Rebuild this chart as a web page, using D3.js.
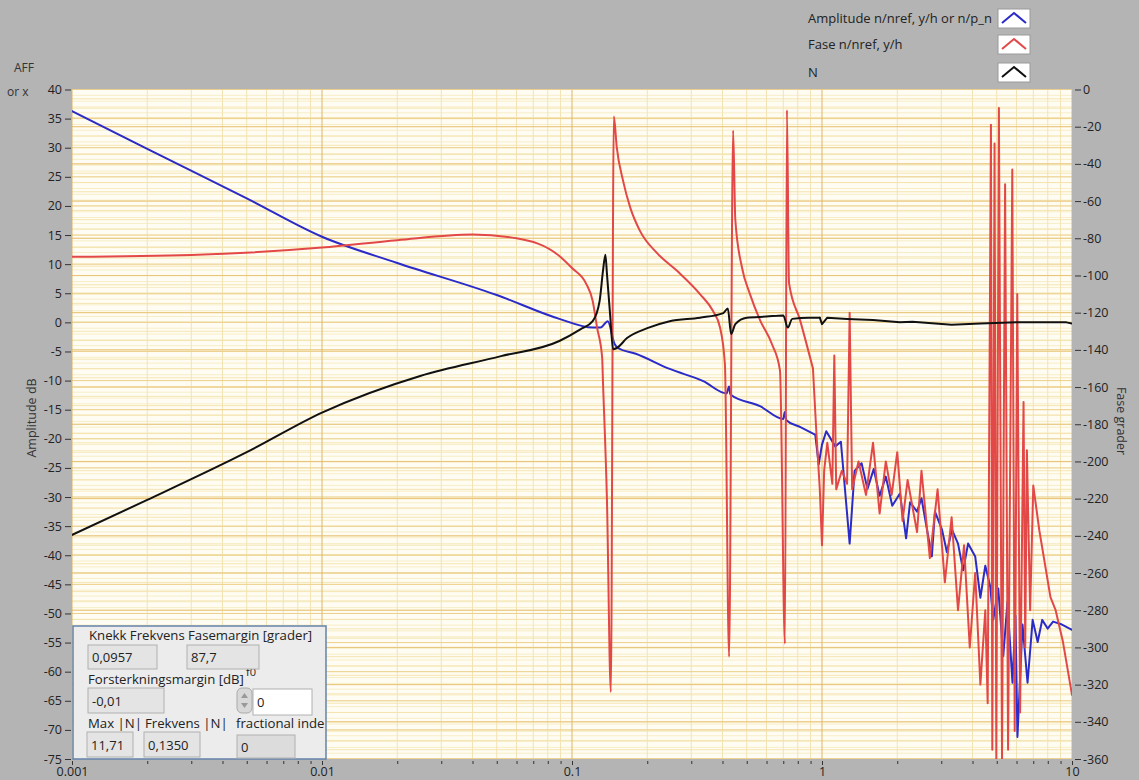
<!DOCTYPE html>
<html>
<head>
<meta charset="utf-8">
<script src="https://cdn.jsdelivr.net/npm/d3@7"></script>
<style>
  body { margin: 0; background: #b4b4b4; }
  svg { display: block; font-family: "Open Sans", "Noto Sans", sans-serif; }
</style>
</head>
<body>
<div id="chart"></div>
<script>
// frequency axis decades
const decades = [0.001, 0.01, 0.1, 1, 10];
const decadeLabels = ["0.001", "0.01", "0.1", "1", "10"];

// Amplitude n/nref [frequency, dB]
const amplitude = [
  [0.001, 36.3], [0.002, 29.8], [0.005, 21.3], [0.01, 14.7],
  [0.02, 10.2], [0.05, 4.7], [0.089, 0.6], [0.121, -0.9], [0.13, -0.9],
  [0.139, 0.2], [0.148, -3.7], [0.153, -4.4], [0.18, -5.4], [0.246, -8.0],
  [0.335, -10.1], [0.415, -12.2], [0.425, -11.0], [0.43, -12.4], [0.565, -14.4],
  [0.70, -16.6], [0.71, -15.4], [0.72, -16.8], [0.82, -18.0], [0.94, -19.3],
  [0.97, -24.4], [1.0, -21.0], [1.04, -18.7], [1.13, -21.3], [1.19, -20.5],
  [1.29, -38.0], [1.35, -25.5], [1.44, -24.2], [1.52, -28.6], [1.61, -25.2],
  [1.7, -29.8], [1.8, -26.5], [1.91, -31.5], [2.05, -29.4], [2.17, -37.1],
  [2.25, -30.9], [2.4, -32.5], [2.5, -30.2], [2.63, -35.6], [2.75, -40.2],
  [2.83, -32.5], [3.02, -35.6], [3.16, -39.5], [3.31, -35.6], [3.5, -38.0],
  [3.67, -42.6], [3.84, -38.0], [4.1, -40.2], [4.3, -47.3], [4.5, -41.8],
  [4.71, -45.4], [4.84, -51.1], [5.07, -45.7], [5.31, -57.3], [5.52, -48.0],
  [5.78, -61.9], [5.94, -50.4], [6.05, -71.2], [6.34, -51.9], [6.64, -61.9],
  [6.96, -51.1], [7.29, -54.9], [7.6, -51.1], [7.99, -52.6], [8.4, -51.4],
  [9.0, -51.8], [10, -52.8]
];

// Fase n/nref [frequency, degrees]
const phase = [
  [0.001, -90], [0.003, -89], [0.01, -85], [0.02, -81], [0.04, -78],
  [0.06, -80], [0.089, -89.5], [0.1, -96], [0.114, -104.5], [0.121, -113.7],
  [0.126, -128], [0.132, -144], [0.133, -157], [0.138, -221], [0.143, -324],
  [0.147, -14.5], [0.151, -31], [0.16, -49], [0.171, -63.5], [0.187, -76],
  [0.219, -88], [0.263, -97.5], [0.325, -110], [0.366, -119], [0.391, -128],
  [0.409, -148], [0.425, -305], [0.441, -22], [0.45, -70], [0.479, -96],
  [0.515, -110], [0.565, -124], [0.631, -137], [0.679, -151], [0.711, -298],
  [0.724, -11], [0.738, -104], [0.817, -124], [0.92, -150], [0.95, -185],
  [0.98, -215], [1.0, -245], [1.02, -205], [1.05, -190], [1.1, -212],
  [1.12, -143], [1.14, -215], [1.2, -205], [1.26, -212], [1.29, -120],
  [1.32, -215], [1.4, -200], [1.5, -218], [1.6, -190], [1.7, -228],
  [1.8, -200], [1.9, -218], [2.0, -195], [2.1, -232], [2.2, -210],
  [2.4, -238], [2.5, -205], [2.7, -252], [2.9, -215], [3.1, -265],
  [3.3, -230], [3.5, -280], [3.7, -245], [3.9, -300], [4.1, -260],
  [4.3, -320], [4.5, -280], [4.6, -330], [4.74, -19], [4.8, -355],
  [4.9, -29], [4.98, -360], [5.1, -10], [5.25, -360], [5.4, -51],
  [5.55, -355], [5.77, -43], [5.9, -345], [6.04, -110], [6.2, -335],
  [6.4, -168], [6.5, -300], [6.6, -194], [6.8, -280], [7.0, -213],
  [7.4, -237], [8.2, -273], [8.6, -280], [9.2, -297], [10, -325.5]
];

// N [frequency, dB]
const nCurve = [
  [0.001, -36.5], [0.002, -30.5], [0.005, -22.3], [0.01, -15.5],
  [0.0247, -9.2], [0.052, -5.8], [0.089, -3.2], [0.108, -1.2], [0.121, 0.2],
  [0.129, 3.7], [0.133, 8.8], [0.136, 11.6], [0.138, 8.3], [0.142, 1.4],
  [0.146, -4.6], [0.151, -4.4], [0.166, -2.7], [0.2, -1.0], [0.246, 0.2],
  [0.325, 0.8], [0.403, 1.6], [0.42, 2.4], [0.433, -2.0], [0.45, -0.3],
  [0.5, 0.8], [0.6, 1.0], [0.7, 1.2], [0.73, -0.9], [0.76, 0.6],
  [0.89, 0.8], [0.98, 0.8], [1.0, -0.3], [1.05, 0.8], [1.26, 0.6],
  [1.6, 0.4], [2.05, 0.0], [2.3, 0.1], [3.3, -0.4], [4.3, -0.2],
  [6.0, 0.0], [9.5, 0.0], [10, -0.2]
];

const legendItems = [
  { label: "Amplitude n/nref, y/h or n/p_n", color: "#2b2bc8" },
  { label: "Fase n/nref, y/h", color: "#e34848" },
  { label: "N", color: "#111111" }
];

const W = 1139, H = 780;
const plotL = 72, plotR = 1072, plotT = 89.5, plotB = 759;

const svg = d3.select("#chart").append("svg")
  .attr("width", W)
  .attr("height", H);

svg.append("rect").attr("width", W).attr("height", H).attr("fill", "#b4b4b4");

const x = d3.scaleLog().domain([0.001, 10]).range([plotL, plotR]);
const yL = d3.scaleLinear().domain([-75, 40]).range([plotB, plotT]);
const yR = d3.scaleLinear().domain([-360, 0]).range([plotB, plotT]);

// plot background
svg.append("rect")
  .attr("x", plotL).attr("y", plotT)
  .attr("width", plotR - plotL).attr("height", plotB - plotT)
  .attr("fill", "#fffdf3");

svg.append("clipPath").attr("id", "plot-clip")
  .append("rect")
  .attr("x", plotL).attr("y", plotT)
  .attr("width", plotR - plotL).attr("height", plotB - plotT);

const grid = svg.append("g").attr("clip-path", "url(#plot-clip)");

// minor x grid (2..9 per decade)
let minorX = [];
decades.slice(0, -1).forEach(d => {
  for (let k = 2; k <= 9; k++) minorX.push(d * k);
});

// horizontal grid: left minor/major + right minor/major
grid.selectAll(".hl-minor").data(d3.range(-75, 41, 1)).join("line")
  .attr("x1", plotL).attr("x2", plotR)
  .attr("y1", d => yL(d)).attr("y2", d => yL(d))
  .attr("stroke", "#f7edc6").attr("stroke-width", 1);
grid.selectAll(".hr-minor").data(d3.range(-360, 1, 5)).join("line")
  .attr("x1", plotL).attr("x2", plotR)
  .attr("y1", d => yR(d)).attr("y2", d => yR(d))
  .attr("stroke", "#f4e4b0").attr("stroke-width", 1);
grid.selectAll(".vl-minor").data(minorX).join("line")
  .attr("x1", d => x(d)).attr("x2", d => x(d))
  .attr("y1", plotT).attr("y2", plotB)
  .attr("stroke", "#f2e3b4").attr("stroke-width", 1);
grid.selectAll(".hl-major").data(d3.range(-75, 41, 5)).join("line")
  .attr("x1", plotL).attr("x2", plotR)
  .attr("y1", d => yL(d)).attr("y2", d => yL(d))
  .attr("stroke", "#ecd08e").attr("stroke-width", 1);
grid.selectAll(".hr-major").data(d3.range(-360, 1, 20)).join("line")
  .attr("x1", plotL).attr("x2", plotR)
  .attr("y1", d => yR(d)).attr("y2", d => yR(d))
  .attr("stroke", "#e8c47a").attr("stroke-width", 1);
grid.selectAll(".vl-major").data(decades).join("line")
  .attr("x1", d => x(d)).attr("x2", d => x(d))
  .attr("y1", plotT).attr("y2", plotB)
  .attr("stroke", "#dcb66c").attr("stroke-width", 1);

// curves: smooth below ~0.9 Hz, jagged (straight segments) in the noisy band above
const curves = svg.append("g").attr("clip-path", "url(#plot-clip)")
  .attr("fill", "none").attr("stroke-width", 2)
  .attr("stroke-linejoin", "round").attr("stroke-linecap", "round");

function drawSeries(data, yScale, color) {
  const i = data.findIndex(d => d[0] >= 0.9);
  const smooth = d3.line().x(d => x(d[0])).y(d => yScale(d[1])).curve(d3.curveMonotoneX);
  const jagged = d3.line().x(d => x(d[0])).y(d => yScale(d[1]));
  curves.append("path").datum(data.slice(0, i + 1)).attr("d", smooth).attr("stroke", color);
  curves.append("path").datum(data.slice(i)).attr("d", jagged).attr("stroke", color);
}

drawSeries(amplitude, yL, legendItems[0].color);
drawSeries(phase, yR, legendItems[1].color);
drawSeries(nCurve, yL, legendItems[2].color);

// axes
const axisStyle = g => {
  g.select(".domain").remove();
  g.selectAll("line").attr("stroke", "#333");
  g.selectAll("text").attr("fill", "#222").style("font-size", "12.5px")
    .style("font-family", "\"Open Sans\", sans-serif");
};

svg.append("g")
  .attr("transform", `translate(${plotL - 1},0)`)
  .call(d3.axisLeft(yL).tickValues(d3.range(-75, 41, 5)).tickSize(6).tickPadding(3)
    .tickFormat(d => String(d)))
  .call(axisStyle);

svg.append("g")
  .attr("transform", `translate(${plotR + 3},0)`)
  .call(d3.axisRight(yR).tickValues(d3.range(-360, 1, 20)).tickSize(6).tickPadding(2)
    .tickFormat(d => String(d)))
  .call(axisStyle);

svg.append("g")
  .attr("transform", `translate(0,${plotB + 2})`)
  .call(d3.axisBottom(x).tickValues(minorX).tickSize(3).tickFormat(""))
  .call(axisStyle);

svg.append("g")
  .attr("transform", `translate(0,${plotB + 2})`)
  .call(d3.axisBottom(x).tickValues(decades).tickSize(4).tickPadding(2)
    .tickFormat((d, i) => decadeLabels[i]))
  .call(axisStyle);

// axis titles
svg.append("text")
  .attr("transform", `translate(36,418) rotate(-90)`)
  .attr("text-anchor", "middle")
  .style("font-size", "12.5px").attr("fill", "#333")
  .text("Amplitude dB");

svg.append("text")
  .attr("transform", `translate(1117,421) rotate(90)`)
  .attr("text-anchor", "middle")
  .style("font-size", "12.5px").attr("fill", "#333")
  .text("Fase grader");

svg.append("text").attr("x", 14).attr("y", 72)
  .style("font-size", "12px").attr("fill", "#333").text("AFF");
svg.append("text").attr("x", 7).attr("y", 96)
  .style("font-size", "12px").attr("fill", "#333").text("or x");

// legend
const legend = svg.append("g");
legendItems.forEach((item, i) => {
  const ly = [9, 35, 63][i];
  legend.append("text")
    .attr("x", 808).attr("y", ly + 14)
    .style("font-size", "13px").attr("fill", "#222")
    .text(item.label);
  legend.append("rect")
    .attr("x", 998).attr("y", ly)
    .attr("width", 32).attr("height", 19)
    .attr("fill", "#ffffff").attr("stroke", "#9a9a9a");
  legend.append("polyline")
    .attr("points", `${1002},${ly + 14} ${1014},${ly + 4} ${1026},${ly + 14}`)
    .attr("fill", "none").attr("stroke", item.color).attr("stroke-width", 2);
});

// info panel
const panel = svg.append("g");
panel.append("rect")
  .attr("x", 73).attr("y", 626).attr("width", 253).attr("height", 133)
  .attr("fill", "#ececec").attr("stroke", "#6482aa").attr("stroke-width", 1.5);

const panelText = [
  { x: 89, y: 640, t: "Knekk Frekvens" },
  { x: 188, y: 640, t: "Fasemargin [grader]" },
  { x: 88, y: 684, t: "Forsterkningsmargin [dB]" },
  { x: 246, y: 676, t: "f0", size: 11 },
  { x: 88, y: 728, t: "Max |N|" },
  { x: 145, y: 728, t: "Frekvens |N|" },
  { x: 236, y: 728, t: "fractional inde" }
];
panelText.forEach(p => {
  panel.append("text").attr("x", p.x).attr("y", p.y)
    .style("font-size", (p.size || 13.2) + "px").attr("fill", "#222").text(p.t);
});

const boxes = [
  { x: 88, y: 645, w: 69, h: 24, t: "0,0957", fill: "#e4e4e4" },
  { x: 187, y: 645, w: 72, h: 24, t: "87,7", fill: "#e4e4e4" },
  { x: 88, y: 688, w: 76, h: 25, t: "-0,01", fill: "#e4e4e4" },
  { x: 253, y: 689, w: 59, h: 26, t: "0", fill: "#ffffff" },
  { x: 87, y: 732, w: 46, h: 25, t: "11,71", fill: "#e4e4e4" },
  { x: 144, y: 732, w: 56, h: 25, t: "0,1350", fill: "#e4e4e4" },
  { x: 237, y: 735, w: 58, h: 23, t: "0", fill: "#dcdcdc" }
];
boxes.forEach(b => {
  panel.append("rect").attr("x", b.x).attr("y", b.y)
    .attr("width", b.w).attr("height", b.h)
    .attr("fill", b.fill).attr("stroke", "#b0b0b0");
  panel.append("text").attr("x", b.x + 4).attr("y", b.y + b.h / 2 + 5)
    .style("font-size", "13px").attr("fill", "#222").text(b.t);
});

// spinner
panel.append("rect").attr("x", 237).attr("y", 688).attr("width", 15).attr("height", 25)
  .attr("rx", 5).attr("fill", "#d8d8d8").attr("stroke", "#aaa");
panel.append("path").attr("d", "M241,698 L244.5,693 L248,698 Z").attr("fill", "#999");
panel.append("path").attr("d", "M241,703 L244.5,708 L248,703 Z").attr("fill", "#999");
</script>
</body>
</html>
